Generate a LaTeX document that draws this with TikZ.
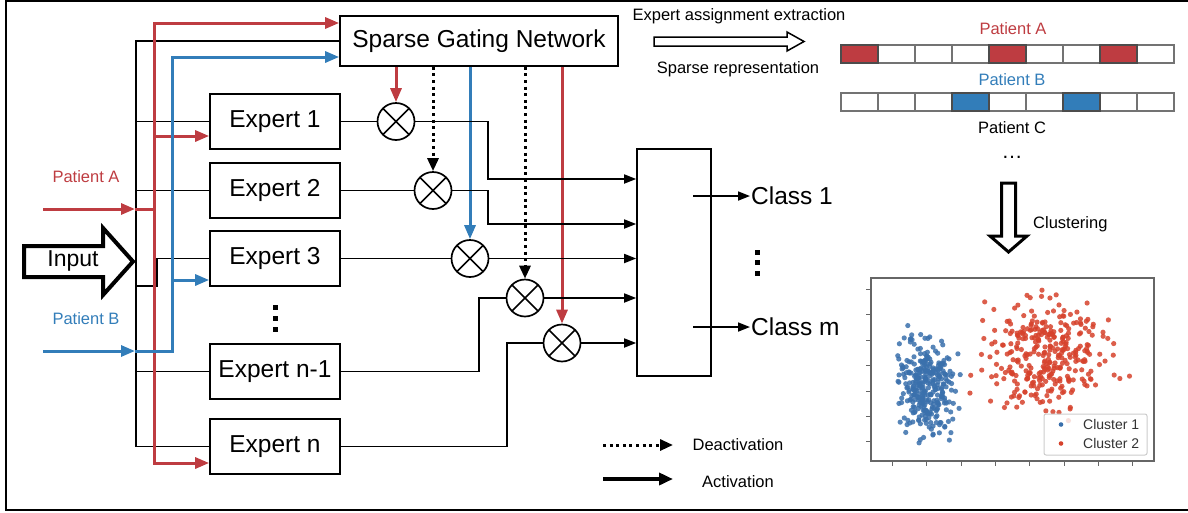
\documentclass[tikz,border=0pt]{standalone}
\usepackage{fontspec}
\setmainfont{Liberation Sans}
\usetikzlibrary{arrows.meta}
\definecolor{pred}{RGB}{190,60,65}
\definecolor{pblue}{RGB}{50,125,185}
\definecolor{sred}{RGB}{214,66,44}
\definecolor{sblue}{RGB}{58,112,172}
\begin{document}
\begin{tikzpicture}[x=1pt,y=-1pt,
  blk/.style={line width=1.7pt},
  tipb/.style={-{Triangle[length=12pt,width=9pt]}},
  tipd/.style={-{Triangle[length=13pt,width=11pt]}},
  tipc/.style={-{Triangle[length=14pt,width=11pt]}},
  rl/.style={draw=pred,line width=3pt},
  bl/.style={draw=pblue,line width=3pt},
  dotl/.style={line width=3pt,dash pattern=on 3pt off 3.6pt},
  expert/.style={draw,line width=1.7pt,minimum width=130pt,minimum height=55pt,inner sep=0pt,font=\fontsize{24.5}{28}\selectfont},
  mult/.style={circle,draw,line width=1.7pt,minimum size=37pt,inner sep=0pt,
    path picture={\draw[line width=1.7pt] (path picture bounding box.south west)--(path picture bounding box.north east)
      (path picture bounding box.north west)--(path picture bounding box.south east);}},
  big/.style={font=\fontsize{24.5}{28}\selectfont,inner sep=1pt},
  small/.style={font=\fontsize{16.5}{19}\selectfont,inner sep=1pt},
  tiny/.style={font=\fontsize{14}{16}\selectfont,inner sep=1pt,text=black!80},
]
\useasboundingbox (0,0) rectangle (1188,512);
% frame
\draw[line width=2pt] (1190,1) -- (6,1) -- (6,510) -- (1190,510);

% main nodes
\node[expert,minimum width=278pt,minimum height=50pt] (sgn) at (479,41) {Sparse Gating Network};
\node[expert] (e1) at (275,121.5) {Expert 1};
\node[expert] (e2) at (275,190.5) {Expert 2};
\node[expert] (e3) at (275,258.5) {Expert 3};
\node[expert] (en1) at (275,371.5) {Expert n-1};
\node[expert] (en) at (275,446.5) {Expert n};
\node[draw,line width=1.7pt,minimum width=74pt,minimum height=227pt,inner sep=0pt] (comb) at (674,262.5) {};
\node[mult] (m1) at (396,121.5) {};
\node[mult] (m2) at (433,190.5) {};
\node[mult] (m3) at (470,258.5) {};
\node[mult] (m4) at (525,298) {};
\node[mult] (m5) at (562,343) {};

% vertical dots between experts
\foreach \yy in {307,318,329} \fill (272.5,\yy-2.5) rectangle ++(5,5);

% input arrow
\draw[line width=4pt,line join=miter] (24,246) -- (103,246) -- (103,228) -- (133,261.5) -- (103,295) -- (103,277) -- (24,277) -- cycle;
\node[font=\fontsize{23}{26}\selectfont] (inp) at (73,261) {Input};

% black input bus
\coordinate (btopk) at (136,41);
\draw[blk] (en.west -| btopk) -- (btopk) -- (sgn.west);
\draw[blk] (e1.west -| btopk) -- (e1.west);
\draw[blk] (e2.west -| btopk) -- (e2.west);
\coordinate (k3a) at (136,286);
\coordinate (k3b) at (157,286);
\draw[blk] (k3a) -- (k3b) -- (k3b |- e3.west) -- (e3.west);
\draw[blk] (en1.west -| btopk) -- (en1.west);
\draw[blk] (en.west -| btopk) -- (en.west);

% patient A (red)
\node[small,text=pred] (pA) at (86,177) {Patient A};
\coordinate (pas) at (43,209);
\coordinate (busA) at (135,209);
\coordinate (rA) at (154,209);
\coordinate (rtop) at (154,23);
\coordinate (rbot) at (154,463);
\coordinate (r1) at (154,136);
\draw[rl,tipc] (pas) -- (busA);
\draw[rl] (busA) -- (rA);
\draw[rl,tipc] (rA) -- (rtop) -- (sgn.west |- rtop);
\draw[rl,tipc] (rA) -- (rbot) -- (en.west |- rbot);
\draw[rl,tipc] (r1) -- (e1.west |- r1);

% patient B (blue)
\node[small,text=pblue] (pB) at (86,319) {Patient B};
\coordinate (pbs) at (43,351);
\coordinate (busB) at (135,351);
\coordinate (bc) at (172,351);
\coordinate (btop) at (172,57);
\coordinate (b3) at (172,280);
\draw[bl,tipc] (pbs) -- (busB);
\draw[bl,tipc] (busB) -- (bc) -- (btop) -- (sgn.west |- btop);
\draw[bl,tipc] (b3) -- (e3.west |- b3);

% gating outputs
\draw[rl,tipc] (sgn.south -| m1) -- (m1.north);
\draw[dotl,tipd] (sgn.south -| m2) -- (m2.north);
\draw[bl,tipc] (sgn.south -| m3) -- (m3.north);
\draw[dotl,tipd] (sgn.south -| m4) -- (m4.north);
\draw[rl,tipc] (sgn.south -| m5) -- (m5.north);

% expert outputs
\coordinate (j1) at (488,179);
\coordinate (j2) at (488,224);
\coordinate (j4) at (479,371.5);
\coordinate (j5) at (507,446.5);
\draw[blk] (e1.east) -- (m1.west);
\draw[blk,tipb] (m1.east) -- (m1.east -| j1) -- (j1) -- (comb.west |- j1);
\draw[blk] (e2.east) -- (m2.west);
\draw[blk,tipb] (m2.east) -- (m2.east -| j2) -- (j2) -- (comb.west |- j2);
\draw[blk] (e3.east) -- (m3.west);
\draw[blk,tipb] (m3.east) -- (comb.west |- m3.east);
\draw[blk] (en1.east) -- (j4) -- (j4 |- m4.west) -- (m4.west);
\draw[blk,tipb] (m4.east) -- (comb.west |- m4.east);
\draw[blk] (en.east) -- (j5) -- (j5 |- m5.west) -- (m5.west);
\draw[blk,tipb] (m5.east) -- (comb.west |- m5.east);

% classes
\node[big,anchor=west] (cl1) at (750,196) {Class 1};
\node[big,anchor=west] (clm) at (750,327) {Class m};
\coordinate (c1s) at (693,196);
\coordinate (cms) at (693,327);
\draw[blk,tipb] (c1s) -- (cl1.west);
\draw[blk,tipb] (cms) -- (clm.west);
\foreach \yy in {252,262.5,273} \fill (754.5,\yy-2.5) rectangle ++(5,5);

% legend
\coordinate (ld1) at (603,445);
\coordinate (ld2) at (673,445);
\coordinate (la1) at (603,479);
\coordinate (la2) at (673,479);
\draw[dotl,tipd] (ld1) -- (ld2);
\draw[line width=4pt,-{Triangle[length=14pt,width=12pt]}] (la1) -- (la2);
\node[small] (deact) at (738,445) {Deactivation};
\node[small] (act) at (738,482) {Activation};

% top right
\node[small] (eae) at (739,16) {Expert assignment extraction};
\draw[line width=1.5pt,fill=white] (654,37) -- (787,37) -- (787,32) -- (804,41.5) -- (787,51) -- (787,46) -- (654,46) -- cycle;
\node[small] (spr) at (738,69) {Sparse representation};

\node[small,text=pred] (lA) at (1013,29) {Patient A};
\node[small,text=pblue] (lB) at (1012,80) {Patient B};
\node[small] (lC) at (1012,128) {Patient C};
\node[font=\fontsize{21}{24}\selectfont,inner sep=1pt] (ldots) at (1012,157) {…};
\foreach \i in {0,...,8} \draw[draw=black!55,line width=1.5pt,fill=white] ({841+37*\i},45) rectangle ++(37,18);
\foreach \i in {0,4,7} \draw[draw=black!70,line width=1.5pt,fill=pred] ({841+37*\i},45) rectangle ++(37,18);
\foreach \i in {0,...,8} \draw[draw=black!55,line width=1.5pt,fill=white] ({841+37*\i},93) rectangle ++(37,18);
\foreach \i in {3,6} \draw[draw=black!70,line width=1.5pt,fill=pblue] ({841+37*\i},93) rectangle ++(37,18);

% clustering arrow
\draw[line width=3pt,fill=white,line join=miter] (1001.5,183) -- (1015.5,183) -- (1015.5,236) -- (1027,236) -- (1008.5,252) -- (990,236) -- (1001.5,236) -- cycle;
\node[small,anchor=west] (clu) at (1032,224) {Clustering};

% scatter plot
\begin{scope}
\clip (871,278) rectangle (1154,461);
\pgfmathsetseed{7}
\foreach \i in {1,...,330} \fill[sblue,opacity=0.85] ({927+14*(rand+rand+rand)},{386+23*(rand+rand+rand)}) circle (2.6pt);
\foreach \i in {1,...,330} \fill[sred,opacity=0.85] ({1046+31*(rand+rand+rand)},{356+26*(rand+rand+rand)}) circle (2.6pt);
\end{scope}
\draw[black!60,line width=1.2pt] (871,278) rectangle (1154,461);
\foreach \yy in {289,314.5,340,365.5,391,416.5,441.5} \draw[black!60,line width=1pt] (866,\yy) -- (871,\yy);
\foreach \xx in {892,926,961,995,1029,1064,1098,1132} \draw[black!60,line width=1pt] (\xx,461) -- (\xx,466);
\draw[black!20,fill=white,fill opacity=0.8,rounded corners=2pt,line width=1pt] (1044,414) rectangle (1147,455);
\fill[sblue] (1061,424.5) circle (2.3pt);
\fill[sred] (1061,443.5) circle (2.3pt);
\node[tiny,anchor=west] (lc1) at (1082,424.5) {Cluster 1};
\node[tiny,anchor=west] (lc2) at (1082,443.5) {Cluster 2};
\end{tikzpicture}
\end{document}
